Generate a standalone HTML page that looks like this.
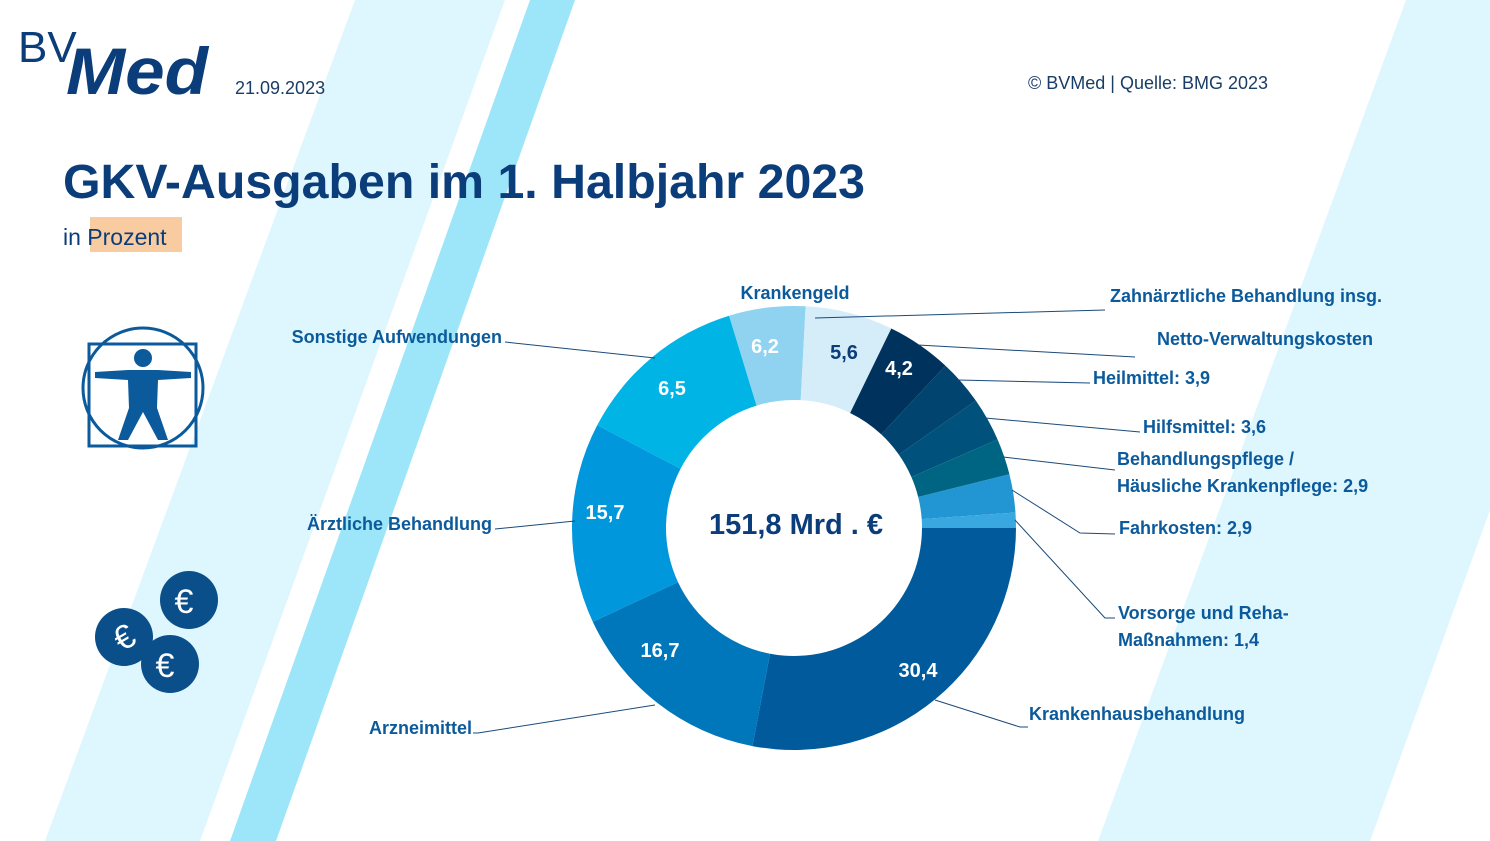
<!DOCTYPE html>
<html><head><meta charset="utf-8"><style>
html,body{margin:0;padding:0;background:#fff}
body{width:1490px;height:841px;overflow:hidden;position:relative;font-family:"Liberation Sans","DejaVu Sans",sans-serif}
</style></head><body>
<svg id="s" width="1490" height="841" viewBox="0 0 1490 841" xmlns="http://www.w3.org/2000/svg" style="position:absolute;left:0;top:0">
<polygon points="355,0 505,0 200,841 45,841" fill="#def6fd"/>
<polygon points="530,0 575,0 276,841 230,841" fill="#9de6f9"/>
<polygon points="1406,0 1490,0 1490,510 1370,841 1098,841" fill="#def6fd"/>
<g font-family="Liberation Sans, sans-serif" fill="#0b3d7a">
<text x="18" y="62" font-size="44" fill="#0b3d7a">BV</text>
<text x="66" y="94" font-size="66" font-weight="bold" font-style="italic" fill="#0b3d7a" textLength="142" lengthAdjust="spacingAndGlyphs">Med</text>
<text x="235" y="94" font-size="18" fill="#1a3d66">21.09.2023</text>
<text x="1028" y="89" font-size="18" fill="#1a3d66">© BVMed | Quelle: BMG 2023</text>
<rect x="90" y="217" width="92" height="35" fill="#f8cba0"/>
<text x="63" y="198" font-size="48" font-weight="bold" textLength="802" lengthAdjust="spacingAndGlyphs">GKV-Ausgaben im 1. Halbjahr 2023</text>
<text x="63" y="245" font-size="23">in Prozent</text>
</g>
<g stroke="#0b5a9c" fill="none" stroke-width="3">
<circle cx="143" cy="388" r="60"/>
<rect x="89" y="344" width="107" height="102"/>
</g>
<g fill="#0b5a9c">
<circle cx="143" cy="358" r="9"/>
<path d="M95,372 L128,370 L158,370 L191,372 L191,378 L158,380 L157,408 L168,440 L158,440 L143,412 L128,440 L118,440 L129,408 L128,380 L95,378 Z"/>
</g>
<g fill="#0b4f8a"><circle cx="189" cy="600" r="29"/><circle cx="124" cy="637" r="29"/><circle cx="170" cy="664" r="29"/></g>
<g fill="#fff" font-family="Liberation Sans, sans-serif" font-size="34" text-anchor="middle">
<text x="184" y="613">€</text><text x="165" y="677">€</text><text x="124" y="649" transform="rotate(-30 124 637)">€</text></g>
<g id="donut"></g>
<g stroke="#1a4a7a" stroke-width="1" fill="none">
<polyline points="815,318 1105,310"/>
<polyline points="918,345 1135,357"/>
<polyline points="958,380 1090,383"/>
<polyline points="985,418 1140,432"/>
<polyline points="1003,457 1115,470"/>
<polyline points="1012,490 1080,533 1115,534"/>
<polyline points="1015,520 1105,618 1115,618"/>
<polyline points="935,700 1020,727 1028,727"/>
<polyline points="655,705 478,733 473,733"/>
<polyline points="575,521 495,529"/>
<polyline points="655,358 505,342"/>
</g>
<g font-family="Liberation Sans, sans-serif" font-size="18" font-weight="bold" fill="#0b5a9c">
<text x="795" y="299" text-anchor="middle">Krankengeld</text>
<text x="1110" y="302">Zahnärztliche Behandlung insg.</text>
<text x="1157" y="345">Netto-Verwaltungskosten</text>
<text x="1093" y="384">Heilmittel: 3,9</text>
<text x="1143" y="433">Hilfsmittel: 3,6</text>
<text x="1117" y="465">Behandlungspflege /</text>
<text x="1117" y="492">Häusliche Krankenpflege: 2,9</text>
<text x="1119" y="534">Fahrkosten: 2,9</text>
<text x="1118" y="619">Vorsorge und Reha-</text>
<text x="1118" y="646">Maßnahmen: 1,4</text>
<text x="1029" y="720">Krankenhausbehandlung</text>
<text x="472" y="734" text-anchor="end">Arzneimittel</text>
<text x="492" y="530" text-anchor="end">Ärztliche Behandlung</text>
<text x="502" y="343" text-anchor="end">Sonstige Aufwendungen</text>
</g>
<text x="796" y="534" text-anchor="middle" font-family="Liberation Sans, sans-serif" font-size="29" font-weight="bold" fill="#0b3d7a">151,8 Mrd . €</text>
<g font-family="Liberation Sans, sans-serif" font-size="20" font-weight="bold" fill="#fff" text-anchor="middle">
<text x="918" y="677">30,4</text><text x="660" y="657">16,7</text><text x="605" y="519">15,7</text>
<text x="672" y="395">6,5</text><text x="765" y="353">6,2</text><text x="844" y="359" fill="#0b3d7a">5,6</text><text x="899" y="375">4,2</text>
</g>
</svg>
<script>
var d=[[100.8,"#005a9c"],[155,"#0077bb"],[207.6,"#0097dc"],[253,"#00b4e6"],[273,"#8fd3f0"],[296,"#d5ecf9"],[313,"#00325e"],[325,"#00446f"],[336.5,"#00527c"],[346,"#006582"],[356,"#2196d3"],[360,"#3aa8e0"]];
var cx=794,cy=528,R=222,r=128,a=0,h="";
function p(rad,ang){return (cx+rad*Math.cos(ang)).toFixed(2)+","+(cy+rad*Math.sin(ang)).toFixed(2);}
d.forEach(function(s){var b=s[0]*Math.PI/180;var l=(b-a)>Math.PI?1:0;
h+='<path d="M'+p(R,a)+' A'+R+','+R+' 0 '+l+' 1 '+p(R,b)+' L'+p(r,b)+' A'+r+','+r+' 0 '+l+' 0 '+p(r,a)+' Z" fill="'+s[1]+'"/>';a=b;});
document.getElementById("donut").innerHTML=h;
</script>
</body></html>
